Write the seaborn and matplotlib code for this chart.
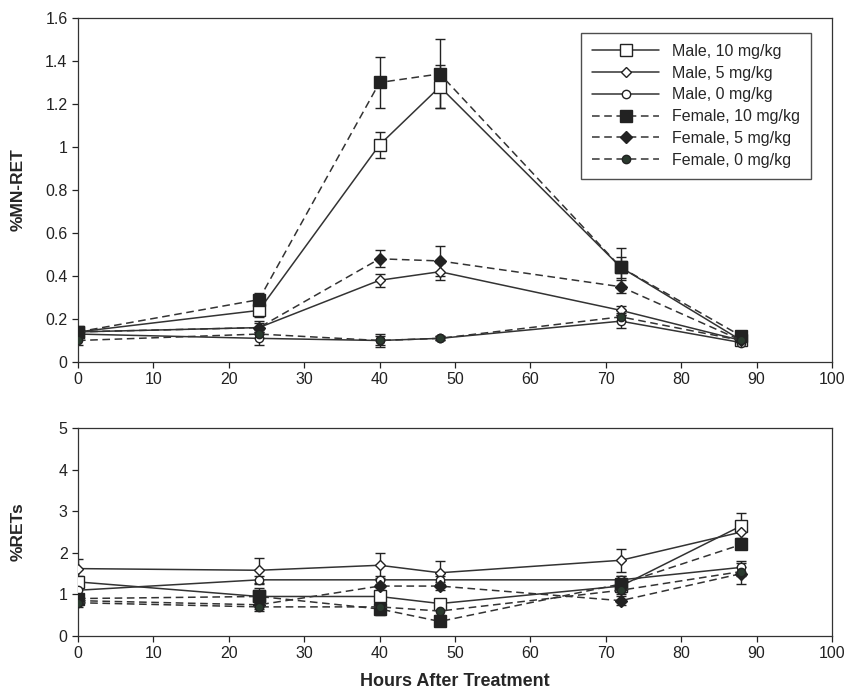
import numpy as np
import pandas as pd
import matplotlib
matplotlib.use("Agg")
import matplotlib.pyplot as plt
import seaborn as sns

# sampling times (hours after treatment)
hours = [0, 24, 40, 48, 72, 88]

series_names = ["Male, 10 mg/kg", "Male, 5 mg/kg", "Male, 0 mg/kg",
                "Female, 10 mg/kg", "Female, 5 mg/kg", "Female, 0 mg/kg"]

# %MN-RET (top panel)
mn_male_10 = [0.14, 0.24, 1.01, 1.28, 0.44, 0.10]
mn_male_5 = [0.14, 0.16, 0.38, 0.42, 0.24, 0.10]
mn_male_0 = [0.13, 0.11, 0.10, 0.11, 0.19, 0.09]
mn_female_10 = [0.14, 0.29, 1.30, 1.34, 0.44, 0.12]
mn_female_5 = [0.14, 0.16, 0.48, 0.47, 0.35, 0.10]
mn_female_0 = [0.10, 0.13, 0.10, 0.11, 0.21, 0.10]

mn_err_male_10 = [0.02, 0.03, 0.06, 0.10, 0.05, 0.02]
mn_err_male_5 = [0.01, 0.02, 0.03, 0.04, 0.02, 0.01]
mn_err_male_0 = [0.01, 0.03, 0.02, 0.01, 0.03, 0.01]
mn_err_female_10 = [0.02, 0.03, 0.12, 0.16, 0.09, 0.02]
mn_err_female_5 = [0.01, 0.03, 0.04, 0.07, 0.03, 0.01]
mn_err_female_0 = [0.02, 0.02, 0.03, 0.01, 0.02, 0.01]

# %RETs (bottom panel)
ret_male_10 = [1.30, 0.95, 0.95, 0.78, 1.20, 2.65]
ret_male_5 = [1.62, 1.58, 1.70, 1.52, 1.82, 2.50]
ret_male_0 = [1.10, 1.35, 1.35, 1.35, 1.35, 1.65]
ret_female_10 = [0.90, 0.95, 0.65, 0.35, 1.25, 2.20]
ret_female_5 = [0.85, 0.75, 1.20, 1.20, 0.85, 1.50]
ret_female_0 = [0.80, 0.70, 0.70, 0.60, 1.10, 1.55]

ret_err_male_10 = [0.15, 0.10, 0.15, 0.10, 0.15, 0.30]
ret_err_male_5 = [0.22, 0.30, 0.30, 0.28, 0.28, 0.20]
ret_err_male_0 = [0.10, 0.10, 0.10, 0.10, 0.10, 0.15]
ret_err_female_10 = [0.10, 0.20, 0.15, 0.08, 0.20, 0.10]
ret_err_female_5 = [0.10, 0.10, 0.15, 0.10, 0.10, 0.25]
ret_err_female_0 = [0.10, 0.10, 0.10, 0.10, 0.10, 0.10]

mn_vals = [mn_male_10, mn_male_5, mn_male_0, mn_female_10, mn_female_5, mn_female_0]
mn_errs = [mn_err_male_10, mn_err_male_5, mn_err_male_0,
           mn_err_female_10, mn_err_female_5, mn_err_female_0]
ret_vals = [ret_male_10, ret_male_5, ret_male_0, ret_female_10, ret_female_5, ret_female_0]
ret_errs = [ret_err_male_10, ret_err_male_5, ret_err_male_0,
            ret_err_female_10, ret_err_female_5, ret_err_female_0]

# look of each series
styles = [
    dict(marker="s", ms=8, mfc="white", ls="-"),
    dict(marker="D", ms=5, mfc="white", ls="-"),
    dict(marker="o", ms=6, mfc="white", ls="-"),
    dict(marker="s", ms=8, mfc="#222222", ls=(0, (5, 3))),
    dict(marker="D", ms=6, mfc="#222222", ls=(0, (5, 3))),
    dict(marker="o", ms=6, mfc="#2a3a2e", ls=(0, (5, 3))),
]

sns.set_style("ticks")
plt.rcParams["font.family"] = ["Liberation Sans", "DejaVu Sans"]

line_col = "#333333"

fig = plt.figure(figsize=(8.52, 6.89), dpi=100)
ax1 = fig.add_axes([0.0915, 0.4746, 0.885, 0.4993])
ax2 = fig.add_axes([0.0915, 0.0769, 0.885, 0.302])


def draw_panel(ax, vals, errs):
    for name, v, e, st in zip(series_names, vals, errs, styles):
        df = pd.DataFrame({"hours": hours, "value": v})
        sns.lineplot(data=df, x="hours", y="value", ax=ax, color=line_col,
                     lw=1.1, linestyle=st["ls"], marker=st["marker"],
                     markersize=st["ms"], markerfacecolor=st["mfc"],
                     markeredgecolor="#222222", markeredgewidth=1.0,
                     label=name, zorder=3)
        ax.errorbar(hours, v, yerr=e, fmt="none", ecolor="#222222",
                    elinewidth=1.0, capsize=3.5, capthick=1.0, zorder=2)
    for sp in ax.spines.values():
        sp.set_color("#333333")
        sp.set_linewidth(0.9)
    ax.tick_params(direction="out", length=4, width=0.9, colors="#222222",
                   labelsize=11.5)
    ax.set_xlim(0, 100)
    ax.set_xticks(range(0, 101, 10))


def excel_fmt(v, pos):
    s = f"{v:.1f}"
    return s[:-2] if s.endswith(".0") else s


draw_panel(ax1, mn_vals, mn_errs)
ax1.set_ylim(0, 1.6)
ax1.set_yticks(np.arange(0, 1.61, 0.2))
ax1.yaxis.set_major_formatter(matplotlib.ticker.FuncFormatter(excel_fmt))
ax1.set_xlabel("")
ax1.set_ylabel("%MN-RET", fontsize=12.5, fontweight="bold", labelpad=14)
leg = ax1.legend(loc="upper right", bbox_to_anchor=(0.983, 0.98), frameon=True,
                 fancybox=False, edgecolor="#222222", fontsize=11.5,
                 handlelength=4.2, labelspacing=0.42, borderpad=0.7)
leg.get_frame().set_linewidth(1.0)

draw_panel(ax2, ret_vals, ret_errs)
ax2.set_ylim(0, 5)
ax2.set_yticks(range(0, 6))
ax2.get_legend().remove()
ax2.set_ylabel("%RETs", fontsize=12.5, fontweight="bold", labelpad=24)
ax2.set_xlabel("Hours After Treatment", fontsize=13, fontweight="bold", labelpad=8)

fig.savefig("out.png", dpi=100)
